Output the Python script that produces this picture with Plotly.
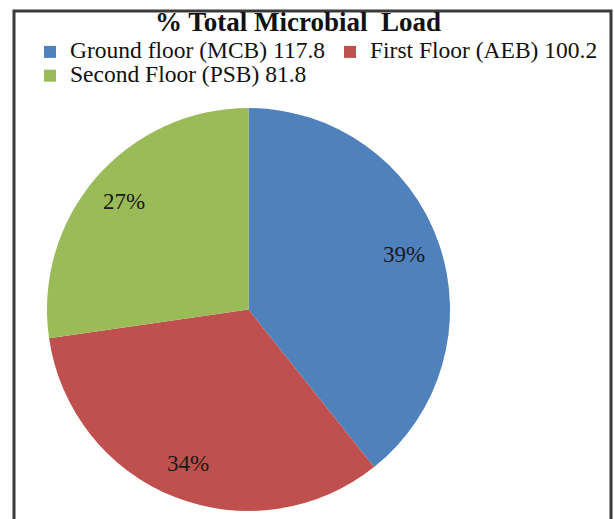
import math
import plotly.graph_objects as go

# Microbial load per floor
floors = ["Ground floor (MCB)", "First Floor (AEB)", "Second Floor (PSB)"]
loads = [117.8, 100.2, 81.8]
pct_labels = ["39%", "34%", "27%"]
colors = ["#4F81BD", "#C0504D", "#9BBB59"]

W, H = 614, 519
# legend rows are spaced from the base font size; entry text is drawn larger
legend_names = [
    f'<span style="font-size:23.5px">{f} {v}</span>' for f, v in zip(floors, loads)
]

# pie placement in paper coordinates
dom_x = [47 / W, 450 / W]
dom_y = [1 - 511 / H, 1 - 108 / H]

fig = go.Figure(
    go.Pie(
        labels=legend_names,
        values=loads,
        textinfo="none",
        marker=dict(colors=colors, line=dict(width=0)),
        sort=False,
        direction="clockwise",
        rotation=0,
        hoverinfo="value+percent",
        domain=dict(x=dom_x, y=dom_y),
    )
)

# percentage labels placed along each slice's mid-angle, toward the rim
cx_px = (dom_x[0] + dom_x[1]) / 2 * W
cy_px = (1 - (dom_y[0] + dom_y[1]) / 2) * H
radius_px = min((dom_x[1] - dom_x[0]) * W, (dom_y[1] - dom_y[0]) * H) / 2
total = sum(loads)
cum = 0.0
for v, txt in zip(loads, pct_labels):
    mid = (cum + v / 2) / total * 2 * math.pi
    cum += v
    r = 0.82 * radius_px
    x_px = cx_px + r * math.sin(mid)
    y_px = cy_px - r * math.cos(mid)
    fig.add_annotation(
        x=x_px / W, y=1 - y_px / H, xref="paper", yref="paper",
        text=txt, showarrow=False, xanchor="center", yanchor="middle",
        font=dict(family="Liberation Serif", size=23, color="#1a1a1a"),
    )

# Frame around the chart area
fig.add_shape(
    type="rect", xref="paper", yref="paper",
    x0=14 / W, x1=611 / W, y0=-0.05, y1=1 - 11 / H,
    line=dict(color="#3a3a3a", width=3),
)

fig.update_layout(
    width=W,
    height=H,
    margin=dict(l=0, r=0, t=0, b=0),
    paper_bgcolor="white",
    plot_bgcolor="white",
    title=dict(
        text="<b>% Total Microbial  Load</b>",
        x=298 / W, xanchor="center",
        y=1 - 22 / H, yanchor="middle",
        font=dict(family="Liberation Serif", size=27, color="#111111"),
    ),
    legend=dict(
        orientation="h",
        x=30 / W, xanchor="left",
        y=1 - 35 / H, yanchor="top",
        font=dict(family="Liberation Serif", size=16, color="#111111"),
        itemwidth=30,
        bgcolor="rgba(0,0,0,0)",
    ),
    showlegend=True,
)

fig.write_html("out.html")
